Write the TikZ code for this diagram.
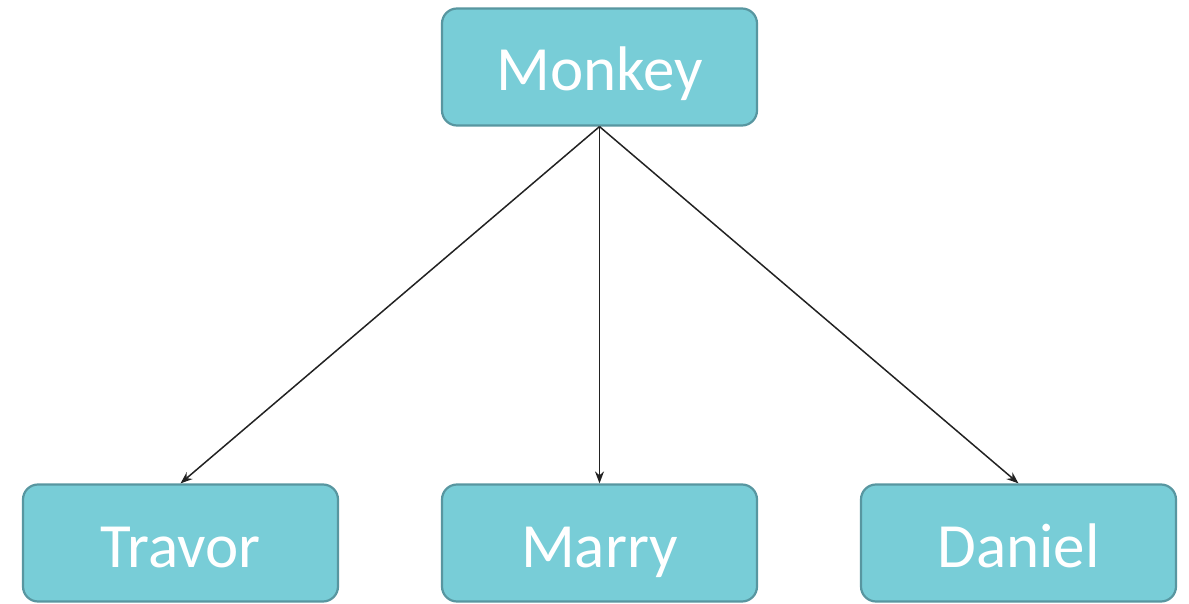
\documentclass[tikz,border=0pt]{standalone}
\usepackage{fontspec}
\setmainfont{Carlito}
\usetikzlibrary{arrows.meta}
\definecolor{myteal}{RGB}{120,205,215}
\definecolor{mytealborder}{RGB}{88,150,160}
\definecolor{myarrow}{RGB}{34,34,34}
\newcommand{\widthbox}{315pt}
\newcommand{\heightbox}{117pt}
\tikzset{
    person/.style={draw=mytealborder, fill=myteal, line width=2.2pt, rounded corners=15pt,
        minimum width=\widthbox, minimum height=\heightbox, text=white,
        text height=55pt, text depth=7pt,
        font=\fontsize{63}{70}\selectfont},
    child/.style={-{Stealth[length=12pt, width=9pt]}, myarrow, line width=1.5pt}
}
\begin{document}
\begin{tikzpicture}[x=1pt, y=1pt]
    \useasboundingbox (0,0) rectangle (1189,603);
    \node[person] (monkey) at (599.5,536) {Monkey};
    \node[person] (travor) at (180.5,60) {Travor};
    \node[person] (marry) at (599.5,60) {Marry};
    \node[person] (daniel) at (1018.5,60) {Daniel};

    \draw[child] (monkey.south) -- (travor.north);
    \draw[child] (monkey.south) -- (marry.north);
    \draw[child] (monkey.south) -- (daniel.north);
\end{tikzpicture}
\end{document}
